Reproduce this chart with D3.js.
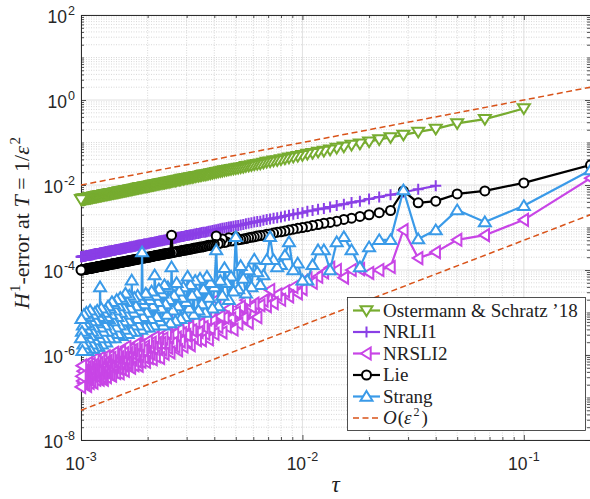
<!DOCTYPE html>
<html><head><meta charset="utf-8">
<script src="https://cdn.jsdelivr.net/npm/d3@7"></script>
<style>body{margin:0;background:#fff} svg{display:block}</style>
</head><body>
<svg id="chart" width="590" height="499"></svg>
<script>
// step sizes: tau = 1 / tauDenominators[i]
const tauDenominators = [5,10,15,20,25,30,35,40,45,50,55,60,65,70,75,80,85,90,95,100,105,110,115,120,125,130,135,140,145,150,155,160,165,170,175,180,185,190,195,200,205,210,215,220,225,230,235,240,245,250,255,260,265,270,275,280,285,290,295,300,305,310,315,320,325,330,335,340,345,350,355,360,365,370,375,380,385,390,395,400,405,410,415,420,425,430,435,440,445,450,455,460,465,470,475,480,485,490,495,500,505,510,515,520,525,530,535,540,545,550,555,560,565,570,575,580,585,590,595,600,605,610,615,620,625,630,635,640,645,650,655,660,665,670,675,680,685,690,695,700,705,710,715,720,725,730,735,740,745,750,755,760,765,770,775,780,785,790,795,800,805,810,815,820,825,830,835,840,845,850,855,860,865,870,875,880,885,890,895,900,905,910,915,920,925,930,935,940,945,950,955,960,965,970,975,980,985,990,995,1000];

// log10 of the H1 error, one value per step size (null = not computed)
const ostermannLog10 = [null,-0.20,-0.45,-0.55,-0.68,-0.75,-0.82,-0.88,-0.93,-0.98,
-1.03,-1.06,-1.10,-1.13,-1.17,-1.20,-1.22,-1.25,-1.27,-1.30,
-1.32,-1.34,-1.36,-1.38,-1.40,-1.42,-1.43,-1.45,-1.46,-1.48,
-1.50,-1.51,-1.52,-1.54,-1.55,-1.56,-1.58,-1.59,-1.60,-1.61,
-1.62,-1.63,-1.64,-1.65,-1.66,-1.67,-1.68,-1.69,-1.70,-1.71,
-1.72,-1.73,-1.74,-1.75,-1.76,-1.76,-1.77,-1.78,-1.79,-1.79,
-1.80,-1.81,-1.82,-1.82,-1.83,-1.84,-1.84,-1.85,-1.86,-1.86,
-1.87,-1.88,-1.88,-1.89,-1.90,-1.90,-1.91,-1.91,-1.92,-1.93,
-1.93,-1.94,-1.94,-1.95,-1.95,-1.96,-1.96,-1.97,-1.97,-1.98,
-1.98,-1.99,-1.99,-2.00,-2.00,-2.01,-2.01,-2.02,-2.02,-2.03,
-2.03,-2.04,-2.04,-2.04,-2.05,-2.05,-2.06,-2.06,-2.06,-2.07,
-2.07,-2.08,-2.08,-2.09,-2.09,-2.09,-2.10,-2.10,-2.11,-2.11,
-2.11,-2.12,-2.12,-2.12,-2.13,-2.13,-2.14,-2.14,-2.14,-2.15,
-2.15,-2.15,-2.16,-2.16,-2.16,-2.17,-2.17,-2.17,-2.18,-2.18,
-2.18,-2.19,-2.19,-2.19,-2.19,-2.20,-2.20,-2.20,-2.21,-2.21,
-2.21,-2.22,-2.22,-2.22,-2.22,-2.23,-2.23,-2.23,-2.24,-2.24,
-2.24,-2.25,-2.25,-2.25,-2.25,-2.26,-2.26,-2.26,-2.26,-2.27,
-2.27,-2.27,-2.27,-2.28,-2.28,-2.28,-2.29,-2.29,-2.29,-2.29,
-2.30,-2.30,-2.30,-2.30,-2.31,-2.31,-2.31,-2.31,-2.31,-2.32,
-2.32,-2.32,-2.33,-2.33,-2.33,-2.33,-2.33,-2.34,-2.34,-2.34];

const nrli1Log10 = [null,null,null,null,-2.02,-2.10,-2.17,-2.23,-2.28,-2.33,
-2.38,-2.41,-2.45,-2.48,-2.52,-2.55,-2.57,-2.60,-2.62,-2.65,
-2.67,-2.69,-2.71,-2.73,-2.75,-2.77,-2.78,-2.80,-2.81,-2.83,
-2.85,-2.86,-2.87,-2.89,-2.90,-2.91,-2.93,-2.94,-2.95,-2.96,
-2.97,-2.98,-2.99,-3.00,-3.01,-3.02,-3.03,-3.04,-3.05,-3.06,
-3.07,-3.08,-3.09,-3.10,-3.11,-3.11,-3.12,-3.13,-3.14,-3.14,
-3.15,-3.16,-3.17,-3.17,-3.18,-3.19,-3.19,-3.20,-3.21,-3.21,
-3.22,-3.23,-3.23,-3.24,-3.25,-3.25,-3.26,-3.26,-3.27,-3.28,
-3.28,-3.29,-3.29,-3.30,-3.30,-3.31,-3.31,-3.32,-3.32,-3.33,
-3.33,-3.34,-3.34,-3.35,-3.35,-3.36,-3.36,-3.37,-3.37,-3.38,
-3.38,-3.39,-3.39,-3.39,-3.40,-3.40,-3.41,-3.41,-3.41,-3.42,
-3.42,-3.43,-3.43,-3.44,-3.44,-3.44,-3.45,-3.45,-3.46,-3.46,
-3.46,-3.47,-3.47,-3.47,-3.48,-3.48,-3.49,-3.49,-3.49,-3.50,
-3.50,-3.50,-3.51,-3.51,-3.51,-3.52,-3.52,-3.52,-3.53,-3.53,
-3.53,-3.54,-3.54,-3.54,-3.54,-3.55,-3.55,-3.55,-3.56,-3.56,
-3.56,-3.57,-3.57,-3.57,-3.57,-3.58,-3.58,-3.58,-3.59,-3.59,
-3.59,-3.60,-3.60,-3.60,-3.60,-3.61,-3.61,-3.61,-3.61,-3.62,
-3.62,-3.62,-3.62,-3.63,-3.63,-3.63,-3.64,-3.64,-3.64,-3.64,
-3.65,-3.65,-3.65,-3.65,-3.66,-3.66,-3.66,-3.66,-3.66,-3.67,
-3.67,-3.67,-3.68,-3.68,-3.68,-3.68,-3.68,-3.69,-3.69,-3.69];

const nrsli2Log10 = [-1.84,-2.82,-3.18,-3.29,-3.58,-3.72,-3.06,-3.93,-4.00,-4.07,
-3.98,-4.00,-4.18,-4.00,-3.95,-4.06,-4.16,-4.30,-4.20,-4.45,
-4.55,-4.40,-4.62,-4.50,-4.70,-4.58,-4.78,-4.47,-4.85,-4.72,
-4.83,-5.11,-4.79,-4.87,-5.24,-4.71,-5.13,-4.86,-5.26,-5.00,
-5.40,-5.14,-4.91,-5.33,-5.12,-5.47,-5.09,-5.34,-4.70,-5.50,
-5.19,-5.38,-5.63,-5.16,-5.50,-5.34,-5.65,-5.27,-5.46,-5.65,
-5.22,-5.58,-5.42,-5.77,-5.34,-5.69,-5.53,-5.28,-5.80,-5.49,
-5.68,-5.41,-5.89,-5.59,-5.80,-5.51,-5.72,-4.80,-5.94,-5.58,
-5.83,-5.48,-5.74,-5.97,-5.61,-5.87,-5.72,-6.07,-5.60,-5.86,
-5.72,-6.03,-5.58,-5.84,-6.10,-5.71,-5.97,-5.80,-6.07,-5.68,
-5.93,-6.16,-5.80,-6.05,-5.89,-5.00,-6.16,-5.78,-6.02,-6.25,
-5.89,-6.15,-5.75,-6.01,-6.24,-5.88,-6.11,-5.96,-6.30,-5.86,
-6.08,-6.25,-5.96,-6.18,-5.81,-6.08,-6.37,-5.96,-6.24,-6.08,
-6.33,-5.92,-6.19,-6.43,-6.06,-6.31,-5.99,-6.18,-6.42,-6.05,
-6.28,-5.95,-6.39,-6.15,-6.49,-6.07,-6.28,-6.46,-6.04,-6.25,
-6.42,-6.14,-6.52,-6.22,-6.03,-6.40,-6.19,-6.58,-6.32,-6.13,
-6.51,-6.24,-6.42,-6.07,-6.58,-6.32,-6.19,-6.53,-6.39,-6.14,
-6.58,-6.27,-6.49,-6.10,-6.38,-6.65,-6.25,-6.48,-6.34,-6.61,
-6.21,-6.44,-6.66,-6.31,-6.57,-6.19,-6.42,-6.73,-6.29,-6.56,
-6.38,-6.68,-6.25,-6.51,-6.66,-6.38,-6.61,-6.25,-6.50,-6.75];

const lieLog10 = [-1.53,-1.95,-2.14,-2.21,-2.38,-2.42,-2.14,-2.60,-2.65,-2.70,
-2.74,-2.78,-2.81,-2.85,-2.88,-2.90,-2.93,-2.95,-2.98,-3.00,
-3.02,-3.04,-3.06,-3.08,-3.10,-3.11,-3.13,-3.15,-3.16,-3.18,
-3.19,-3.20,-3.22,-3.23,-3.24,-3.26,-3.27,-3.28,-3.29,-3.22,
-3.31,-3.32,-3.24,-3.34,-3.35,-3.27,-3.37,-3.38,-3.20,-3.40,
-3.41,-3.42,-3.42,-3.43,-3.44,-3.45,-3.46,-3.46,-3.47,-3.48,
-3.48,-3.49,-3.50,-3.51,-3.51,-3.52,-3.53,-3.53,-3.54,-3.54,
-3.55,-3.56,-3.56,-3.57,-3.57,-3.58,-3.59,-3.18,-3.60,-3.60,
-3.61,-3.61,-3.62,-3.62,-3.63,-3.63,-3.64,-3.64,-3.65,-3.65,
-3.66,-3.66,-3.67,-3.67,-3.68,-3.68,-3.69,-3.69,-3.70,-3.70,
-3.70,-3.71,-3.71,-3.72,-3.72,-3.72,-3.73,-3.73,-3.74,-3.74,
-3.74,-3.75,-3.75,-3.76,-3.76,-3.76,-3.77,-3.77,-3.78,-3.78,
-3.78,-3.79,-3.79,-3.79,-3.80,-3.80,-3.80,-3.81,-3.81,-3.81,
-3.82,-3.82,-3.82,-3.83,-3.83,-3.83,-3.84,-3.84,-3.84,-3.85,
-3.85,-3.85,-3.85,-3.86,-3.86,-3.86,-3.87,-3.87,-3.87,-3.88,
-3.88,-3.88,-3.88,-3.89,-3.89,-3.89,-3.90,-3.90,-3.90,-3.90,
-3.91,-3.91,-3.91,-3.91,-3.92,-3.92,-3.92,-3.92,-3.93,-3.93,
-3.93,-3.94,-3.94,-3.94,-3.94,-3.95,-3.95,-3.95,-3.95,-3.95,
-3.96,-3.96,-3.96,-3.96,-3.97,-3.97,-3.97,-3.97,-3.98,-3.98,
-3.98,-3.98,-3.98,-3.99,-3.99,-3.99,-3.99,-4.00,-4.00,-4.00];

const strangLog10 = [-1.65,-2.49,-2.87,-2.59,-3.06,-3.27,-2.12,-3.29,-3.29,-3.46,
-3.93,-3.53,-3.22,-3.34,-4.00,-3.53,-3.53,-3.88,-4.24,-4.24,
-3.84,-4.00,-3.34,-3.65,-3.88,-3.93,-3.76,-3.22,-3.76,-4.12,
-4.35,-4.05,-3.75,-4.40,-4.00,-4.55,-4.20,-3.90,-4.45,-3.22,
-4.50,-4.15,-4.70,-4.30,-3.95,-4.60,-4.25,-4.85,-3.53,-4.40,
-4.90,-4.30,-4.65,-4.15,-5.00,-4.45,-4.80,-4.20,-4.95,-4.55,
-4.25,-5.05,-4.60,-4.35,-4.90,-4.15,-4.75,-5.10,-4.40,-4.65,
-5.15,-4.50,-4.85,-4.30,-5.20,-4.60,-4.95,-3.93,-5.25,-4.70,
-4.40,-5.05,-4.80,-4.35,-5.30,-4.55,-4.90,-5.20,-4.45,-4.75,
-5.10,-4.60,-4.12,-5.30,-4.85,-4.50,-5.15,-4.70,-5.35,-4.60,
-5.00,-4.55,-5.35,-4.80,-5.10,-3.58,-5.40,-4.70,-4.95,-5.30,
-4.60,-5.15,-4.85,-5.45,-4.65,-5.00,-5.30,-4.24,-5.45,-4.90,
-4.60,-5.20,-5.50,-4.75,-5.05,-4.55,-5.40,-4.90,-5.20,-4.70,
-5.55,-5.00,-4.65,-5.30,-4.85,-5.50,-5.10,-4.70,-5.35,-4.95,
-5.60,-4.80,-5.20,-5.50,-4.75,-5.05,-5.40,-4.90,-5.60,-5.15,
-4.85,-5.45,-5.10,-5.70,-4.95,-5.30,-5.60,-5.00,-5.45,-5.15,
-5.75,-4.90,-5.35,-4.40,-5.60,-5.10,-5.80,-5.25,-4.95,-5.50,
-5.80,-5.20,-5.00,-5.65,-5.35,-5.85,-5.05,-5.45,-5.75,-5.20,
-5.55,-4.95,-5.85,-5.30,-5.60,-5.10,-5.90,-5.40,-5.00,-5.70,
-5.25,-5.85,-5.50,-5.05,-5.75,-5.30,-5.90,-5.45,-5.15,-5.60];

// O(eps^2) reference lines (end points)
const refUpperTau = [0.001, 0.2], refUpperErr = [1e-2, 2];
const refLowerTau = [0.001, 0.2], refLowerErr = [5e-8, 2e-3];

// axis tick exponents
const xTickExponents = [-3, -2, -1];
const yTickExponents = [-8, -6, -4, -2, 0, 2];

const seriesNames = ["Ostermann & Schratz \u201918", "NRLI1", "NRSLI2", "Lie", "Strang"];
const seriesColors = ["#77AC30", "#8A3FE6", "#C845E6", "#000000", "#3A9AE8"];
const seriesMarkers = ["down", "plus", "left", "circle", "up"];
const seriesValues = [ostermannLog10, nrli1Log10, nrsli2Log10, lieLog10, strangLog10];
const refColor = "#D95319";

const svg = d3.select("#chart");
const x = d3.scaleLog().domain([1e-3, 0.2]).range([81, 590.5]);
const y = d3.scaleLog().domain([1e-8, 1e2]).range([440, 15]);
const X0 = 81, X1 = 590, Y0 = 440, Y1 = 15;
const axisColor = "#262626";

// grid
const majorX = xTickExponents.map(e => Math.pow(10, e));
const majorY = yTickExponents.map(e => Math.pow(10, e));
const minorX = [], minorY = [];
for (let e = -3; e <= -1; e++) for (let m = 2; m <= 9; m++) { const v = m * Math.pow(10, e); if (v < 0.2 - 1e-9) minorX.push(v); }
for (let e = -8; e <= 1; e++) for (let m = 1; m <= 9; m++) { if (m === 1 && e % 2 === 0) continue; minorY.push(m * Math.pow(10, e)); }

const grid = svg.append("g");
grid.selectAll(".mgx").data(minorX).join("line")
  .attr("x1", d => x(d)).attr("x2", d => x(d)).attr("y1", Y1).attr("y2", Y0)
  .attr("stroke", "#bdbdbd").attr("stroke-width", 0.6).attr("stroke-dasharray", "1,1.5");
grid.selectAll(".mgy").data(minorY).join("line")
  .attr("y1", d => y(d)).attr("y2", d => y(d)).attr("x1", X0).attr("x2", X1)
  .attr("stroke", "#bdbdbd").attr("stroke-width", 0.6).attr("stroke-dasharray", "1,1.5");
grid.selectAll(".gx").data(majorX).join("line")
  .attr("x1", d => x(d)).attr("x2", d => x(d)).attr("y1", Y1).attr("y2", Y0)
  .attr("stroke", "#d8d8d8").attr("stroke-width", 0.8);
grid.selectAll(".gy").data(majorY).join("line")
  .attr("y1", d => y(d)).attr("y2", d => y(d)).attr("x1", X0).attr("x2", X1)
  .attr("stroke", "#d8d8d8").attr("stroke-width", 0.8);

// axes (ticks inside, box on)
function styleAxis(g) {
  g.selectAll("path,line").attr("stroke", axisColor).attr("stroke-width", 0.8);
  g.selectAll("text").remove();
}
svg.append("g").attr("transform", `translate(0,${Y0})`).call(d3.axisBottom(x).tickValues(majorX).tickSizeInner(-5).tickSizeOuter(0).tickFormat("")).call(styleAxis);
svg.append("g").attr("transform", `translate(0,${Y0})`).call(d3.axisBottom(x).tickValues(minorX).tickSizeInner(-3).tickSizeOuter(0).tickFormat("")).call(styleAxis);
svg.append("g").attr("transform", `translate(0,${Y1})`).call(d3.axisTop(x).tickValues(majorX).tickSizeInner(-5).tickSizeOuter(0).tickFormat("")).call(styleAxis);
svg.append("g").attr("transform", `translate(0,${Y1})`).call(d3.axisTop(x).tickValues(minorX).tickSizeInner(-3).tickSizeOuter(0).tickFormat("")).call(styleAxis);
svg.append("g").attr("transform", `translate(${X0},0)`).call(d3.axisLeft(y).tickValues(majorY).tickSizeInner(-5).tickSizeOuter(0).tickFormat("")).call(styleAxis);
svg.append("g").attr("transform", `translate(${X0},0)`).call(d3.axisLeft(y).tickValues(minorY).tickSizeInner(-3).tickSizeOuter(0).tickFormat("")).call(styleAxis);
svg.append("g").attr("transform", `translate(${X1},0)`).call(d3.axisRight(y).tickValues(majorY).tickSizeInner(-5).tickSizeOuter(0).tickFormat("")).call(styleAxis);
svg.append("g").attr("transform", `translate(${X1},0)`).call(d3.axisRight(y).tickValues(minorY).tickSizeInner(-3).tickSizeOuter(0).tickFormat("")).call(styleAxis);

// tick labels
const tickFont = "'Liberation Sans', Arial, Helvetica, sans-serif";
xTickExponents.forEach(e => {
  const t = svg.append("text").attr("x", x(Math.pow(10, e))).attr("y", 470)
    .attr("text-anchor", "middle").attr("font-family", tickFont).attr("font-size", 17.5).attr("fill", axisColor);
  t.append("tspan").text("10");
  t.append("tspan").attr("dy", -9).attr("dx", 1).attr("font-size", 12.5).text(String(e));
});
yTickExponents.forEach(e => {
  const t = svg.append("text").attr("x", 75).attr("y", y(Math.pow(10, e)) + 8)
    .attr("text-anchor", "end").attr("font-family", tickFont).attr("font-size", 17.5).attr("fill", axisColor);
  t.append("tspan").text("10");
  t.append("tspan").attr("dy", -8).attr("dx", 1).attr("font-size", 12.5).text(String(e));
});

// markers
const markerPaths = {
  up: "M0,-5.5L6,4.2L-6,4.2Z",
  down: "M0,5.5L6,-4.2L-6,-4.2Z",
  left: "M-5.5,0L4.2,-6L4.2,6Z",
  circle: "M4.5,0A4.5,4.5 0 1,1 -4.5,0A4.5,4.5 0 1,1 4.5,0Z",
  plus: "M-5.5,0H5.5M0,-5.5V5.5"
};

const line = d3.line().x(d => x(d.tau)).y(d => y(d.err));
const dataLayer = svg.append("g");
seriesValues.forEach((vals, si) => {
  const pts = tauDenominators.map((den, i) => ({ tau: 1 / den, v: vals[i] }))
    .filter(p => p.v !== null).map(p => ({ tau: p.tau, err: Math.pow(10, p.v) }));
  const g = dataLayer.append("g");
  g.append("path").datum(pts).attr("d", line).attr("fill", "none")
    .attr("stroke", seriesColors[si]).attr("stroke-width", 2.2).attr("stroke-linejoin", "round");
  g.selectAll("path.m").data(pts).join("path").attr("class", "m")
    .attr("transform", d => `translate(${x(d.tau)},${y(d.err)})`)
    .attr("d", markerPaths[seriesMarkers[si]])
    .attr("fill", seriesMarkers[si] === "plus" ? "none" : "#fff")
    .attr("stroke", seriesColors[si]).attr("stroke-width", 2);
});

// reference lines
[[refUpperTau, refUpperErr], [refLowerTau, refLowerErr]].forEach(([ts, es]) => {
  const pts = ts.map((t, i) => ({ tau: t, err: es[i] }));
  dataLayer.append("path").datum(pts).attr("d", line).attr("fill", "none")
    .attr("stroke", refColor).attr("stroke-width", 1.5).attr("stroke-dasharray", "6,3.5");
});

// axis titles
const serif = "'Liberation Serif', 'Times New Roman', serif";
svg.append("text").attr("x", 335.5).attr("y", 492).attr("text-anchor", "middle")
  .attr("font-family", serif).attr("font-size", 23).attr("font-style", "italic").attr("fill", "#222").text("\u03C4");

const yt = svg.append("text").attr("transform", "translate(29,223) rotate(-90)")
  .attr("text-anchor", "middle").attr("font-family", serif).attr("font-size", 22).attr("fill", "#222");
yt.append("tspan").attr("font-style", "italic").text("H");
yt.append("tspan").attr("font-size", 15).attr("dy", -9).attr("dx", 1).text("1");
yt.append("tspan").attr("dy", 9).text("-error at ");
yt.append("tspan").attr("font-style", "italic").text("T");
yt.append("tspan").text("\u00A0=\u00A01/");
yt.append("tspan").attr("font-style", "italic").text("\u03B5");
yt.append("tspan").attr("font-size", 15).attr("dy", -9).attr("dx", 1.5).text("2");

// legend
const leg = svg.append("g");
leg.append("rect").attr("x", 347.5).attr("y", 297.5).attr("width", 238).attr("height", 133)
  .attr("fill", "#fff").attr("stroke", axisColor).attr("stroke-width", 0.8);
const rowY = i => 310.5 + i * 21.5;
seriesNames.forEach((name, i) => {
  const yy = rowY(i);
  leg.append("line").attr("x1", 353).attr("x2", 380).attr("y1", yy).attr("y2", yy)
    .attr("stroke", seriesColors[i]).attr("stroke-width", 2.2);
  leg.append("path").attr("transform", `translate(366.5,${yy})`).attr("d", markerPaths[seriesMarkers[i]])
    .attr("fill", seriesMarkers[i] === "plus" ? "none" : "#fff").attr("stroke", seriesColors[i]).attr("stroke-width", 2);
  leg.append("text").attr("x", 383).attr("y", yy + 6).attr("font-family", serif).attr("font-size", 19)
    .attr("fill", "#222").text(name);
});
{
  const yy = rowY(5);
  leg.append("line").attr("x1", 353).attr("x2", 380).attr("y1", yy).attr("y2", yy)
    .attr("stroke", refColor).attr("stroke-width", 1.5).attr("stroke-dasharray", "6,3.5");
  const t = leg.append("text").attr("x", 383).attr("y", yy + 6).attr("font-family", serif).attr("font-size", 19).attr("fill", "#222");
  t.append("tspan").attr("font-style", "italic").text("O");
  t.append("tspan").attr("dx", 1).text("(");
  t.append("tspan").attr("font-style", "italic").text("\u03B5");
  t.append("tspan").attr("font-size", 12).attr("dy", -8).attr("dx", 2).text("2");
  t.append("tspan").attr("dy", 8).attr("dx", 2).text(")");
}
</script>
</body></html>
